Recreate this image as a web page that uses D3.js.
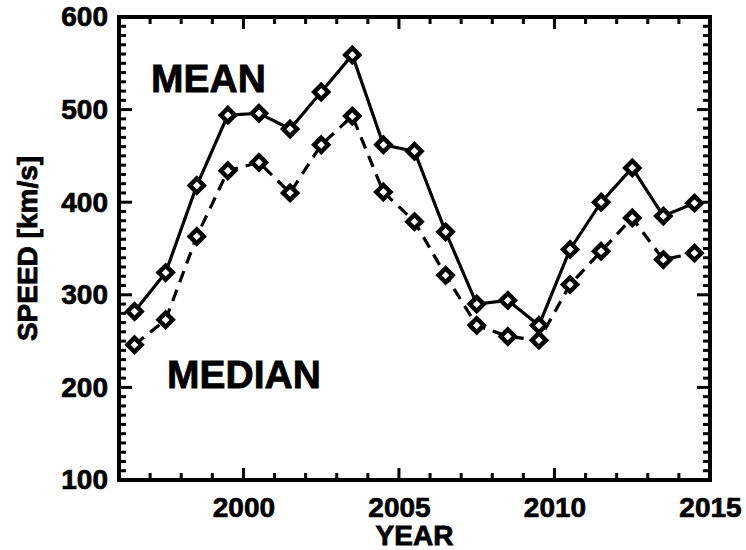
<!DOCTYPE html>
<html>
<head>
<meta charset="utf-8">
<script src="https://cdn.jsdelivr.net/npm/d3@7"></script>
<style>
  html, body { margin: 0; padding: 0; background: #fff; }
  svg { display: block; font-family: "Liberation Sans", Arial, Helvetica, sans-serif; font-weight: bold; }
</style>
</head>
<body>
<svg id="chart" width="746" height="550"></svg>
<script>
// ---- data ----
const years = [1996.5, 1997.5, 1998.5, 1999.5, 2000.5, 2001.5, 2002.5, 2003.5, 2004.5, 2005.5,
               2006.5, 2007.5, 2008.5, 2009.5, 2010.5, 2011.5, 2012.5, 2013.5, 2014.5];
const meanSpeed = [282, 324, 418, 494, 496, 479, 519, 559, 462, 455,
                   368, 290, 294, 267, 349, 400, 437, 385, 399];
const medianSpeed = [246, 273, 363, 434, 443, 410, 462, 493, 411, 379,
                     321, 267, 255, 251, 311, 347, 383, 338, 345];
const xTickValues = [2000, 2005, 2010, 2015];
const yTickValues = [100, 200, 300, 400, 500, 600];
const xDomain = [1996, 2015];
const yDomain = [100, 600];

// ---- layout ----
const svg = d3.select("#chart");
const L = 119, R = 710, T = 17, B = 480;
const x = d3.scaleLinear().domain(xDomain).range([L, R]);
const y = d3.scaleLinear().domain(yDomain).range([B, T]);

svg.append("rect").attr("width", 746).attr("height", 550).attr("fill", "#fff");

const xMinor = d3.range(xDomain[0], xDomain[1] + 1, 1).filter(v => !xTickValues.includes(v));
const yMinor = d3.range(yDomain[0], yDomain[1] + 1, 10).filter(v => !yTickValues.includes(v));

// tick labels through d3 axes
function styleAxis(g) {
  g.select(".domain").remove();
  g.selectAll(".tick line").remove();
  g.selectAll(".tick text").attr("fill", "#000").attr("stroke", "#000").attr("stroke-width", 0.7)
    .style("font-size", "28px").style("font-weight", "bold")
    .style("font-family", "'Liberation Sans', Arial, sans-serif");
}
svg.append("g").attr("transform", `translate(0,${B})`)
  .call(d3.axisBottom(x).tickValues(xTickValues).tickSize(0).tickPadding(17).tickFormat(d3.format("d")))
  .call(styleAxis);
svg.append("g").attr("transform", `translate(${L},0)`)
  .call(d3.axisLeft(y).tickValues(yTickValues).tickSize(0).tickPadding(11).tickFormat(d3.format("d")))
  .call(styleAxis);

// frame
svg.append("rect").attr("x", L).attr("y", T).attr("width", R - L).attr("height", B - T)
  .attr("fill", "none").attr("stroke", "#000").attr("stroke-width", 4);

// inward tick marks on all four sides (drawn as thin filled rects)
const tg = svg.append("g").attr("fill", "#000");
function xTicks(vals, len) {
  tg.append("g").selectAll("rect").data(vals).join("rect")
    .attr("x", d => x(d) - 1.5).attr("width", 3).attr("y", B - len).attr("height", len);
  tg.append("g").selectAll("rect").data(vals).join("rect")
    .attr("x", d => x(d) - 1.5).attr("width", 3).attr("y", T).attr("height", len);
}
function yTicks(vals, len) {
  tg.append("g").selectAll("rect").data(vals).join("rect")
    .attr("y", d => y(d) - 1.5).attr("height", 3).attr("x", L).attr("width", len);
  tg.append("g").selectAll("rect").data(vals).join("rect")
    .attr("y", d => y(d) - 1.5).attr("height", 3).attr("x", R - len).attr("width", len);
}
xTicks(xTickValues, 12);
xTicks(xMinor, 7);
yTicks(yTickValues, 13);
yTicks(yMinor, 7);

// ---- series ----
const line = d3.line().x((d, i) => x(years[i])).y(d => y(d));

svg.append("path").datum(medianSpeed).attr("d", line)
  .attr("fill", "none").attr("stroke", "#000").attr("stroke-width", 3.2)
  .attr("stroke-dasharray", "12,8");
svg.append("path").datum(meanSpeed).attr("d", line)
  .attr("fill", "none").attr("stroke", "#000").attr("stroke-width", 3.2);

const diamond = "M0,-7L7,0L0,7L-7,0Z";
function markers(values) {
  svg.append("g").selectAll("path").data(values).join("path")
    .attr("d", diamond)
    .attr("transform", (d, i) => `translate(${x(years[i])},${y(d)})`)
    .attr("fill", "#fff").attr("stroke", "#000").attr("stroke-width", 4.5)
    .attr("stroke-linejoin", "miter");
}
markers(medianSpeed);
markers(meanSpeed);

// ---- labels ----
function bold(sel, size) {
  return sel.style("font-size", size).attr("fill", "#000")
    .attr("stroke", "#000").attr("stroke-width", 0.8);
}
bold(svg.append("text").attr("x", 151).attr("y", 92).text("MEAN"), "39px");
bold(svg.append("text").attr("x", 167).attr("y", 388).text("MEDIAN"), "39px");

bold(svg.append("text").attr("x", (L + R) / 2).attr("y", 545).attr("text-anchor", "middle")
  .text("YEAR"), "28px");
bold(svg.append("text").attr("transform", `translate(37,${(T + B) / 2}) rotate(-90)`)
  .attr("text-anchor", "middle").text("SPEED [km/s]"), "28px");
</script>
</body>
</html>
